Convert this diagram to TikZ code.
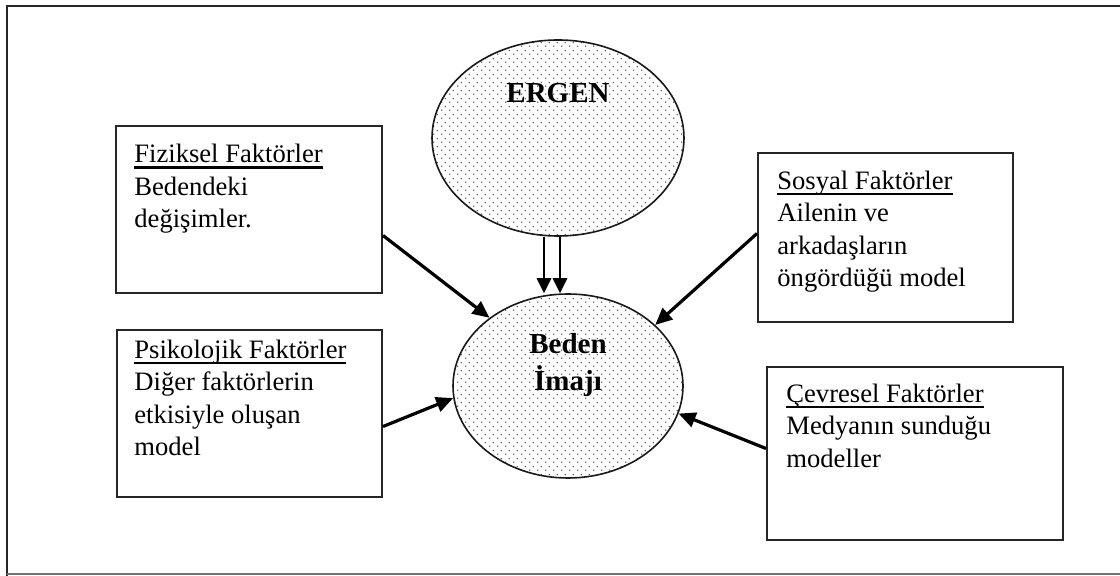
\documentclass[tikz,border=0pt]{standalone}
\usepackage{fontspec}
\setmainfont{Liberation Serif}
\usetikzlibrary{arrows.meta,shapes.geometric,patterns.meta,calc}

% sparse staggered dot screen for the two ellipses
\tikzdeclarepattern{
  name=sparsedots,
  type=uncolored,
  bounding box={(0pt,0pt) and (4pt,4pt)},
  tile size={(4pt,4pt)},
  code={
    \fill (1pt,1pt) circle (0.42pt);
    \fill (3pt,3pt) circle (0.42pt);
  }
}

% heading of a factor box, with a heavy underline at a fixed depth
\newcommand\facttitle[1]{\setbox0\hbox{#1}\rlap{\rule[-3pt]{\wd0}{1.1pt}}\box0}

\begin{document}
\begin{tikzpicture}[x=0.5pt,y=-0.5pt,
  blob/.style={ellipse, draw=black!90, line width=0.8pt, inner sep=0pt,
    preaction={fill=white}, pattern=sparsedots, pattern color=black!70},
  factorbox/.style={rectangle, draw=black!85, line width=1pt, inner sep=0pt},
  factortext/.style={anchor=north west, inner sep=0pt, align=left,
    font=\fontsize{13.3pt}{16.25pt}\selectfont},
  boldtext/.style={inner sep=0pt, font=\fontsize{14.5pt}{17pt}\selectfont\bfseries},
  push/.style={line width=1.6pt, -{Triangle[length=8.5pt,width=7.5pt]}},
  dpush/.style={line width=1.4pt, -{Triangle[length=7.5pt,width=7pt]}}
]
\useasboundingbox (0,0) rectangle (1120,576);

% outer frame
\draw[line width=1.1pt, black!85] (7,576) -- (7,6) -- (1120,6);
\draw[line width=1pt, black!55] (7,574) -- (1120,574);

% central ellipses
\node[blob, minimum width=126pt, minimum height=98pt] (ergen) at (558,138) {};
\node[blob, minimum width=115pt, minimum height=92pt] (beden) at (568,386) {};
\node[boldtext, anchor=base] (ergenlbl) at (558,103) {ERGEN};
\node[boldtext, anchor=north, align=center] (bedenlbl) at (568,329)
  {\strut Beden\\İmajı};

% factor boxes
\node[factorbox, minimum width=133pt, minimum height=83.5pt] (fiz) at (249,209.5) {};
\node[factorbox, minimum width=127.5pt, minimum height=84.5pt] (sos) at (885.5,237.5) {};
\node[factorbox, minimum width=132.5pt, minimum height=83.5pt] (psi) at (249.5,413.5) {};
\node[factorbox, minimum width=148pt, minimum height=86.5pt] (cev) at (915,453.5) {};

\node[factortext] (fiztxt) at (134,139.5)
  {\strut\facttitle{Fiziksel Faktörler}\\Bedendeki\\değişimler.};
\node[factortext] (sostxt) at (777,166)
  {\strut\facttitle{Sosyal Faktörler}\\Ailenin ve\\arkadaşların\\öngördüğü model};
\node[factortext] (psitxt) at (134,335)
  {\strut\facttitle{Psikolojik Faktörler}\\Diğer faktörlerin\\etkisiyle oluşan\\model};
\node[factortext] (cevtxt) at (786,379)
  {\strut\facttitle{Çevresel Faktörler}\\Medyanın sunduğu\\modeller};

% influences on body image
\draw[push] ($(fiz.east)+(0,26)$) -- (beden.139);
\draw[push] ($(sos.west)+(0,-4)$) -- (beden.35);
\draw[push] ($(psi.east)+(0,13)$) -- (beden.186);
\draw[push] ($(cev.west)+(0,-5)$) -- (beden.-14);

% double link from the adolescent to body image
\coordinate (dl) at (544,0);
\coordinate (dr) at (560,0);
\draw[dpush] (ergen.south -| dl) -- (beden.north -| dl);
\draw[dpush] (ergen.south -| dr) -- (beden.north -| dr);
\end{tikzpicture}
\end{document}
